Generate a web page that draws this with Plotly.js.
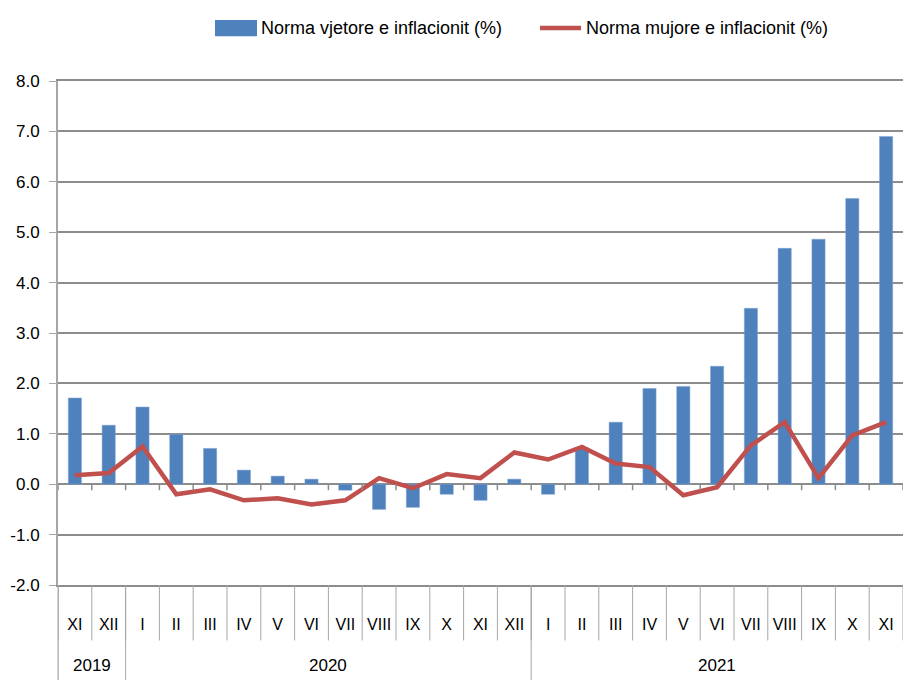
<!DOCTYPE html>
<html>
<head>
<meta charset="utf-8">
<script src="https://cdn.plot.ly/plotly-3.0.1.min.js"></script>
<style>html,body{margin:0;padding:0;background:#fff;}#chart{width:904px;height:680px;}</style>
</head>
<body>
<div id="chart"></div>
<script>
// Data
const months = ["XI","XII","I","II","III","IV","V","VI","VII","VIII","IX","X","XI","XII","I","II","III","IV","V","VI","VII","VIII","IX","X","XI"];
const years = ["2019","2020","2021"];
const yearCounts = [2, 12, 11];
const annualRate = [1.71,1.17,1.53,0.99,0.71,0.28,0.16,0.10,-0.12,-0.50,-0.46,-0.20,-0.32,0.10,-0.20,0.72,1.23,1.90,1.94,2.34,3.49,4.68,4.86,5.67,6.90];
const monthlyRate = [0.18,0.22,0.75,-0.20,-0.10,-0.32,-0.28,-0.40,-0.32,0.12,-0.08,0.20,0.12,0.63,0.49,0.74,0.41,0.34,-0.22,-0.06,0.77,1.23,0.12,0.97,1.23];
const yTickVals = [-2,-1,0,1,2,3,4,5,6,7,8];
const yTickText = ["-2.0","-1.0","0.0","1.0","2.0","3.0","4.0","5.0","6.0","7.0","8.0"];
const seriesNames = ["Norma vjetore e inflacionit (%)", "Norma mujore e inflacionit (%)"];

const idx = months.map((m, i) => i);
const font = "'Liberation Sans Narrow', 'Arial Narrow', 'Liberation Sans', Arial, sans-serif";
const gridCol = "#8c8c8c";
const barCol = "#4F81BD";
const lineCol = "#C0504D";

const traces = [
  {type: "bar", x: idx, y: annualRate, name: seriesNames[0], marker: {color: barCol, line: {color: "#7fa3d3", width: 0.5}}},
  {type: "scatter", mode: "lines", x: idx, y: monthlyRate, name: seriesNames[1], line: {color: lineCol, width: 4.5}}
];

const shapes = [];
const annotations = [];
// month separators in the label band
for (let i = 0; i <= months.length; i++) {
  shapes.push({type: "line", xref: "x", yref: "paper", x0: i - 0.5, x1: i - 0.5, y0: 0, y1: -0.11, line: {color: "#a6a6a6", width: 1}, layer: "above"});
  // small ticks under zero line
  shapes.push({type: "line", xref: "x", yref: "y", x0: i - 0.5, x1: i - 0.5, y0: 0, y1: -0.12, line: {color: gridCol, width: 1.5}});
}
// year separators and labels
let start = 0;
for (let k = 0; k < years.length; k++) {
  const end = start + yearCounts[k];
  shapes.push({type: "line", xref: "x", yref: "paper", x0: start - 0.5, x1: start - 0.5, y0: 0, y1: -0.19, line: {color: "#a6a6a6", width: 1}});
  annotations.push({xref: "x", yref: "paper", x: (start + end - 1) / 2, y: -0.16, text: years[k], showarrow: false, yanchor: "middle", font: {family: font, size: 17, color: "#000"}});
  start = end;
}
shapes.push({type: "line", xref: "paper", yref: "paper", x0: 0, x1: 0, y0: 0, y1: -0.19, line: {color: "#a6a6a6", width: 1}});

// custom legend (wide swatches as in the original)
shapes.push({type: "rect", xref: "paper", yref: "paper", x0: 0.1858, x1: 0.2355, y0: 1.089, y1: 1.121, fillcolor: barCol, line: {width: 0}});
annotations.push({xref: "paper", yref: "paper", x: 0.2379, y: 1.105, xanchor: "left", yanchor: "middle", showarrow: false, text: seriesNames[0], font: {family: font, size: 18, color: "#000"}});
shapes.push({type: "line", xref: "paper", yref: "paper", x0: 0.5704, x1: 0.619, y0: 1.105, y1: 1.105, line: {color: lineCol, width: 4.5}});
annotations.push({xref: "paper", yref: "paper", x: 0.6225, y: 1.105, xanchor: "left", yanchor: "middle", showarrow: false, text: seriesNames[1], font: {family: font, size: 18, color: "#000"}});

const layout = {
  width: 904, height: 680,
  margin: {l: 58, r: 1, t: 81, b: 95},
  paper_bgcolor: "#fff", plot_bgcolor: "#fff",
  bargap: 0.61,
  showlegend: false,
  xaxis: {
    range: [-0.5, months.length - 0.5], tickmode: "array", tickvals: idx, ticktext: months,
    showgrid: false, zeroline: false,
    showline: true, mirror: true, linecolor: gridCol, linewidth: 2,
    ticks: "outside", ticklen: 24, tickcolor: "rgba(0,0,0,0)",
    tickfont: {family: font, size: 16, color: "#000"}, tickangle: 0
  },
  yaxis: {
    range: [-2, 8], tickmode: "array", tickvals: yTickVals, ticktext: yTickText,
    showgrid: true, gridcolor: gridCol, gridwidth: 2,
    zeroline: true, zerolinecolor: gridCol, zerolinewidth: 2,
    showline: true, linecolor: "#a6a6a6", linewidth: 2,
    ticks: "outside", ticklen: 7, tickcolor: "#a6a6a6",
    ticklabelstandoff: 6,
    tickfont: {family: font, size: 17, color: "#000"}
  },
  shapes: shapes,
  annotations: annotations
};

Plotly.newPlot("chart", traces, layout, {displayModeBar: false, staticPlot: true});
</script>
</body>
</html>
